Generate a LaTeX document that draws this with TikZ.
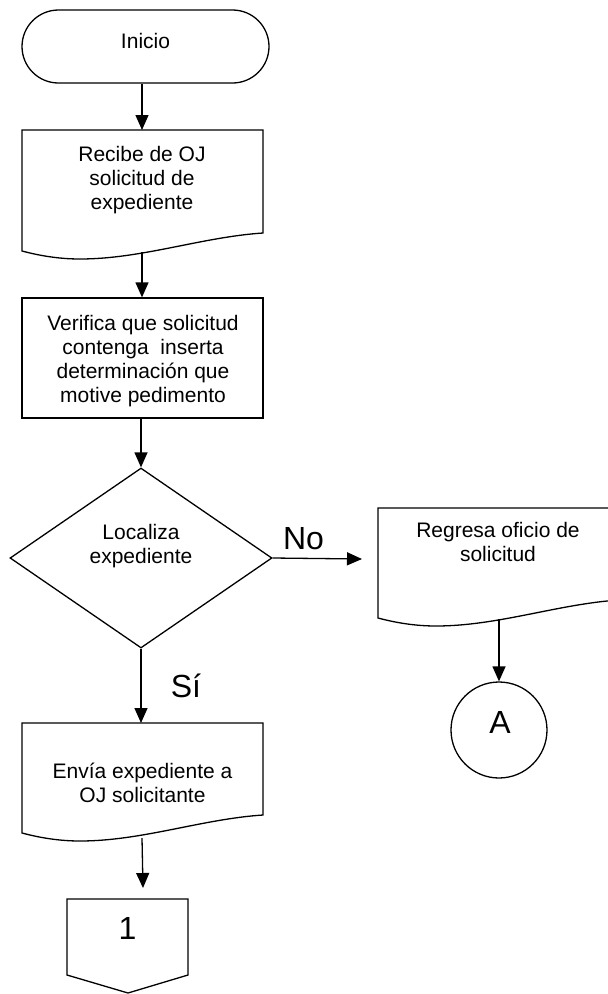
\documentclass[tikz,border=0pt]{standalone}
\usepackage{fontspec}
\setmainfont{Liberation Sans}
\usetikzlibrary{arrows.meta,shapes.geometric,calc}
\tikzset{
  shp/.style={draw=black, line width=1.3pt, fill=white},
  arr/.style={draw=black, line width=1.3pt, -{Triangle[length=15pt,width=13pt]}},
  txt/.style={font=\fontsize{21}{24}\selectfont, align=center, inner sep=0pt},
  big/.style={font=\fontsize{32}{36}\selectfont, inner sep=0pt},
}
\newcommand\mydoc[3]{%
  \draw[shp] (#1,#3) -- (#1,#2) -- ({#1+241},#2) -- ({#1+241},{#3-18})
    .. controls ({#1+180},{#3-14}) and ({#1+120},{#3+8}) .. ({#1+58},{#3+8})
    .. controls ({#1+35},{#3+8}) and ({#1+15},{#3+4}) .. (#1,#3) -- cycle;}
\begin{document}
\begin{tikzpicture}[x=1pt,y=-1pt]
\useasboundingbox (0,0) rectangle (608,994);
\clip (0,0) rectangle (608,994);

% shapes
\node[shp, rounded corners=36.5pt, minimum width=247pt, minimum height=73pt, inner sep=0pt] (inicio) at (145.5,46.5) {};
\mydoc{22}{130}{251}
\node[shp, minimum width=241pt, minimum height=120pt, inner sep=0pt] (verif) at (142.5,358) {};
\node[shp, diamond, aspect=1.4556, minimum width=262pt, minimum height=180pt, inner sep=0pt] (loc) at (141,558) {};
\mydoc{378}{508}{618}
\node[shp, circle, minimum size=96pt, inner sep=0pt] (A) at (499,730) {};
\mydoc{22}{723}{833}
\draw[shp] (67,899) -- (188,899) -- (188,975) -- (128,993) -- (67,975) -- cycle;

% connector end points
\coordinate (d1t) at (142,130);
\coordinate (d1b) at (142,252);
\coordinate (d2l) at (378,559);
\coordinate (d2b) at (499,619);
\coordinate (d3t) at (140,723);
\coordinate (d3b) at (142,838);
\coordinate (offt) at (143,899);

% connectors
\draw[arr] (inicio.south -| d1t) -- (d1t);
\draw[arr] (d1b) -- (d1b |- verif.north);
\draw[arr] (loc.north |- verif.south) -- (loc.north);
\draw[arr] (loc.east) -- ([xshift=-16pt]d2l);
\draw[arr] (loc.south) -- (loc.south |- d3t);
\draw[arr] (d2b) -- (A.north);
\draw[arr] (d3b) -- ([yshift=11pt]offt);

% texts
\node[txt] (t0) at (145.5,41) {Inicio};
\node[txt] (t1) at (142,180) {Recibe de OJ\\solicitud de\\expediente};
\node[txt] (t2) at (143,361) {Verifica que solicitud\\contenga\ \ inserta\\determinación que\\motive pedimento};
\node[txt] (t3) at (141,546) {Localiza\\expediente};
\node[txt] (t4) at (498,542) {Regresa oficio de\\solicitud};
\node[txt] (t5) at (142.5,783) {Envía expediente a\\OJ solicitante};
\node[big] (no) at (303.5,539) {No};
\node[big] (si) at (186,686) {Sí};
\node[big] (ta) at (500,722.5) {A};
\node[big] (one) at (127.5,928.5) {1};
\end{tikzpicture}
\end{document}
